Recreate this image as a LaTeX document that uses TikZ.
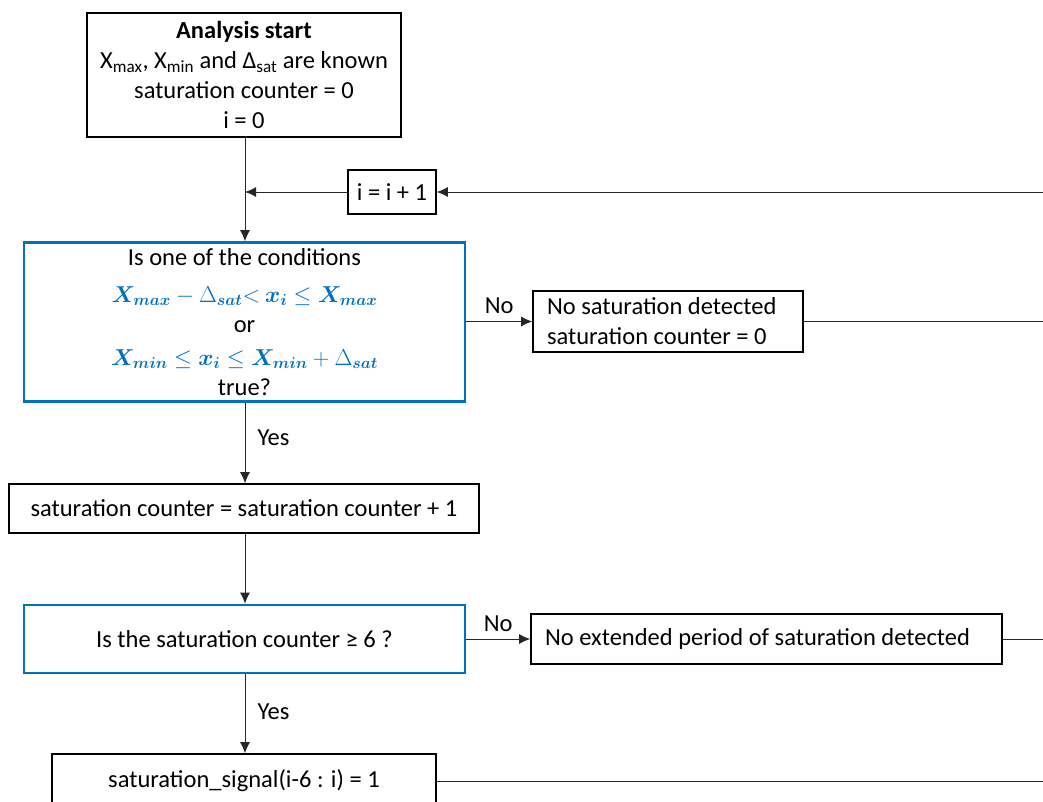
\documentclass[tikz,border=0pt]{standalone}
\usepackage{fontspec}
\setmainfont{Carlito}
\usepackage{amsmath,bm,graphicx}
\usetikzlibrary{arrows.meta}
\definecolor{blu}{RGB}{0,112,192}
\newcommand{\condm}[1]{\scalebox{0.925}{\color{blu}$#1$}}
\tikzset{
  base/.style={font=\fontsize{24.5}{30}\selectfont, inner sep=0pt, align=center},
  box/.style={base, draw=black, line width=1.6pt},
  decbox/.style={base, draw=blu, line width=2.6pt},
  conn/.style={line width=1pt, draw=black!85},
  arr/.style={conn, -{Latex[length=11pt,width=10pt]}},
  lab/.style={font=\fontsize{24.5}{30}\selectfont, inner sep=0pt}
}
\begin{document}
\begin{tikzpicture}[x=1pt,y=-1pt]
\useasboundingbox (0,0) rectangle (1043,801);
\clip (0,0) rectangle (1043,801);
\node[box, minimum width=314pt, minimum height=124pt] (start) at (244,75)
  {\textbf{Analysis start}\\X\textsubscript{max}, X\textsubscript{min} and Δ\textsubscript{sat} are known\\saturation counter = 0\\i = 0};
\node[box, minimum width=88pt, minimum height=44pt] (inc) at (392,192) {i = i + 1};
\coordinate (j) at (245,192);
\node[decbox, minimum width=441pt, minimum height=159pt] (d1) at (244.5,322)
  {Is one of the conditions\\[7pt]
   \condm{\bm{X_{max}} - \Delta_{\bm{sat}}{<}\ \bm{x_i} \le \bm{X_{max}}}\\[0pt]
   or\\[3pt]
   \condm{\bm{X_{min}} \le \bm{x_i} \le \bm{X_{min}} + \Delta_{\bm{sat}}}\\
   true?};
\node[box, minimum width=270pt, minimum height=61pt, text width=242pt, align=flush left] (ns) at (668,321.5)
  {No saturation detected\\saturation counter = 0};
\node[box, minimum width=470pt, minimum height=49pt] (cnt) at (244,508.5)
  {saturation counter = saturation counter + 1};
\node[decbox, minimum width=441pt, minimum height=68pt] (d2) at (244.5,639)
  {Is the saturation counter ≥ 6 ?};
\node[box, minimum width=471pt, minimum height=50pt, text width=443pt, align=flush left] (ne) at (766.5,639)
  {No extended period of saturation detected};
\node[box, minimum width=384pt, minimum height=54pt] (sig) at (244,781)
  {saturation\_signal(i-6 : i) = 1};
\coordinate (r1) at (1050,192);
\coordinate (r2) at (1050,321.5);
\coordinate (r3) at (1050,639);
\coordinate (r4) at (1050,781);
% connectors
\draw[arr] (start.south -| j) -- (d1.north -| j);
\draw[arr] (inc.west) -- (j);
\draw[arr] (r1) -- (inc.east);
\draw[arr] (d1.east |- ns.west) -- node[lab, above=7pt, pos=0.5] (no1) {No} (ns.west);
\draw[conn] (ns.east) -- (r2);
\draw[arr] (d1.south -| j) -- node[lab, right=12pt, pos=0.43] (yes1) {Yes} (cnt.north -| j);
\draw[arr] (cnt.south -| j) -- (d2.north -| j);
\draw[arr] (d2.east) -- node[lab, above=7pt, pos=0.5] (no2) {No} (ne.west);
\draw[conn] (ne.east) -- (r3);
\draw[arr] (d2.south -| j) -- node[lab, right=12pt, pos=0.48] (yes2) {Yes} (sig.north -| j);
\draw[conn] (sig.east) -- (r4);
\end{tikzpicture}
\end{document}
